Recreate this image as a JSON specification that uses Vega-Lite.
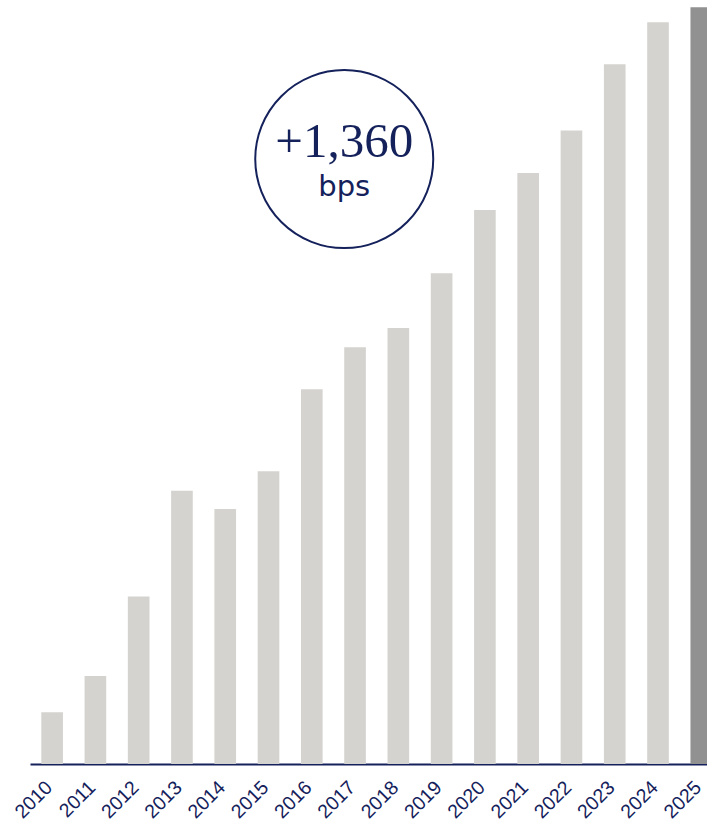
{
  "$schema": "https://vega.github.io/schema/vega-lite/v6.json",
  "autosize": {"type": "none"},
  "width": 677,
  "height": 764,
  "padding": {"left": 30, "top": 0, "right": 0, "bottom": 65},
  "background": "white",
  "config": {"view": {"stroke": null}},
  "datasets": {
    "bars": [
      {"year": "2010", "value": 100, "latest": false},
      {"year": "2011", "value": 170, "latest": false},
      {"year": "2012", "value": 323, "latest": false},
      {"year": "2013", "value": 527, "latest": false},
      {"year": "2014", "value": 492, "latest": false},
      {"year": "2015", "value": 565, "latest": false},
      {"year": "2016", "value": 723, "latest": false},
      {"year": "2017", "value": 804, "latest": false},
      {"year": "2018", "value": 841, "latest": false},
      {"year": "2019", "value": 947, "latest": false},
      {"year": "2020", "value": 1069, "latest": false},
      {"year": "2021", "value": 1140, "latest": false},
      {"year": "2022", "value": 1222, "latest": false},
      {"year": "2023", "value": 1350, "latest": false},
      {"year": "2024", "value": 1431, "latest": false},
      {"year": "2025", "value": 1460, "latest": true}
    ],
    "callout": [
      {"year": "2017", "value": 1167, "headline": "+1,360", "unit": "bps"}
    ]
  },
  "layer": [
    {
      "data": {"name": "bars"},
      "mark": {"type": "bar"},
      "encoding": {
        "x": {
          "field": "year",
          "type": "ordinal",
          "scale": {"range": [0, 693.4], "paddingInner": 0.5, "paddingOuter": 0.261},
          "axis": {
            "title": null,
            "labelAngle": -45,
            "labelAlign": "right",
            "labelBaseline": "middle",
            "labelFont": "Liberation Sans",
            "labelFontSize": 19.5,
            "labelColor": "#14215b",
            "labelPadding": 20,
            "labelOffset": -3,
            "labelOverlap": false,
            "labelBound": false,
            "ticks": false,
            "domainColor": "#14215b",
            "domainWidth": 2,
            "grid": false
          }
        },
        "y": {
          "field": "value",
          "type": "quantitative",
          "scale": {"domain": [0, 1474], "nice": false, "zero": true},
          "axis": null
        },
        "color": {
          "field": "latest",
          "type": "nominal",
          "scale": {"domain": [false, true], "range": ["#d4d3cf", "#919191"]},
          "legend": null
        }
      }
    },
    {
      "data": {"name": "callout"},
      "mark": {"type": "point", "shape": "circle", "filled": false, "size": 31684, "stroke": "#14215b", "strokeWidth": 2, "opacity": 1},
      "encoding": {
        "x": {"field": "year", "type": "ordinal", "bandPosition": 0},
        "y": {"field": "value", "type": "quantitative"}
      }
    },
    {
      "data": {"name": "callout"},
      "mark": {"type": "text", "font": "Liberation Serif", "fontSize": 49, "color": "#14215b", "align": "center", "baseline": "alphabetic", "dy": -2, "dx": 0},
      "encoding": {
        "x": {"field": "year", "type": "ordinal", "bandPosition": 0},
        "y": {"field": "value", "type": "quantitative"},
        "text": {"field": "headline"}
      }
    },
    {
      "data": {"name": "callout"},
      "mark": {"type": "text", "font": "DejaVu Sans", "fontSize": 29, "color": "#14215b", "align": "center", "baseline": "alphabetic", "dy": 37, "dx": 0},
      "encoding": {
        "x": {"field": "year", "type": "ordinal", "bandPosition": 0},
        "y": {"field": "value", "type": "quantitative"},
        "text": {"field": "unit"}
      }
    }
  ]
}
